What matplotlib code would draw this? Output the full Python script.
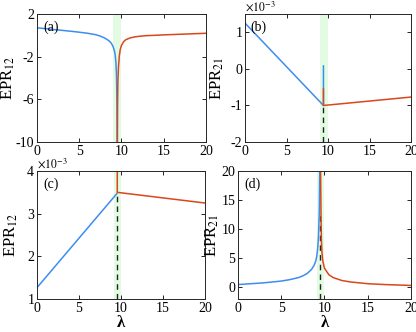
import numpy as np
import matplotlib
matplotlib.use("Agg")
import matplotlib.pyplot as plt
from matplotlib.ticker import MultipleLocator

plt.rcParams['font.family'] = ['Liberation Serif', 'DejaVu Serif']
plt.rcParams['mathtext.fontset'] = 'stix'
plt.rcParams['axes.unicode_minus'] = False

BLUE = '#3d8df0'
RED = '#d9471a'
GREEN = '#e2fbe2'

# ----------------- data -----------------
# (a) EPR_12
a_blue_x = [0, 1, 2, 3, 4, 5, 6, 7, 7.5, 8, 8.5, 8.8, 9.0, 9.15, 9.25, 9.35, 9.42, 9.46, 9.48]
a_blue_y = [0.70, 0.62, 0.54, 0.46, 0.38, 0.29, 0.19, 0.05, -0.08, -0.25, -0.5, -0.75, -1.05, -1.4, -1.8, -2.6, -4.0, -6.5, -10]
a_red_x = [9.52, 9.54, 9.58, 9.65, 9.75, 9.85, 10.0, 10.25, 10.5, 11, 11.5, 12, 13, 14, 15, 17, 20]
a_red_y = [-10, -6.5, -4.2, -2.9, -1.9, -1.35, -0.95, -0.6, -0.42, -0.25, -0.16, -0.1, -0.03, 0.0, 0.04, 0.1, 0.19]

# (b) EPR_21 (x1e-3)
b_blue_x = [0, 9.45, 9.45]
b_blue_y = [1.25, -1.0, 0.08]
b_red_x = [9.45, 9.45, 20]
b_red_y = [-0.55, -1.0, -0.77]

# (c) EPR_12 (x1e-3)
c_blue_x = [0, 9.5]
c_blue_y = [1.27, 3.47]
c_red_x = [9.55, 9.55, 20]
c_red_y = [4.0, 3.5, 3.25]

# (d) EPR_21
d_blue_x = [0, 1, 2, 3, 4, 5, 6, 7, 7.5, 8, 8.5, 8.8, 9.0, 9.1, 9.2, 9.3, 9.4, 9.45]
d_blue_y = [0.5, 0.6, 0.7, 0.8, 0.95, 1.1, 1.35, 1.7, 2.0, 2.4, 3.1, 3.8, 4.6, 5.3, 6.5, 8.5, 13, 20]
d_red_x = [9.55, 9.6, 9.65, 9.7, 9.8, 10, 10.5, 11, 12, 13, 14, 15, 17, 20]
d_red_y = [20, 12, 8, 6.2, 4.6, 3.3, 2.2, 1.7, 1.2, 0.95, 0.8, 0.65, 0.5, 0.35]

fig = plt.figure(figsize=(4.16, 3.32), dpi=100)
ax_a = fig.add_axes([0.089, 0.572, 0.406, 0.386])
ax_b = fig.add_axes([0.589, 0.572, 0.399, 0.386])
ax_c = fig.add_axes([0.089, 0.099, 0.404, 0.386])
ax_d = fig.add_axes([0.572, 0.099, 0.416, 0.386])


def style(ax, ylim, yticks, band, label):
    ax.axvspan(band[0], band[1], color=GREEN, lw=0, zorder=0)
    ax.set_xlim(0, 20)
    ax.set_ylim(*ylim)
    ax.xaxis.set_major_locator(MultipleLocator(5))
    ax.set_yticks(yticks)
    ax.tick_params(direction='in', top=True, right=True, length=3, width=0.6,
                   labelsize=10, pad=2)
    for s in ax.spines.values():
        s.set_linewidth(0.7)
        s.set_color('#262626')
    ax.text(0.035, 0.95, label, transform=ax.transAxes, ha='left', va='top', fontsize=10)


# (a)
style(ax_a, (-10, 2), [2, -2, -6, -10], (9.05, 10.0), '(a)')
ax_a.plot(a_blue_x, a_blue_y, color=BLUE, lw=1.1)
ax_a.plot(a_red_x, a_red_y, color=RED, lw=1.1)
ax_a.set_ylabel('EPR$_{12}$', fontsize=12, labelpad=-1)

# (b)
style(ax_b, (-2, 1.5), [-2, -1, 0, 1], (9.0, 9.95), '(b)')
ax_b.plot([9.45, 9.45], [-2, -1.0], color='#222222', lw=1.0, ls=(0, (4, 3)))
ax_b.plot(b_blue_x, b_blue_y, color=BLUE, lw=1.1)
ax_b.plot(b_red_x, b_red_y, color=RED, lw=1.1)
ax_b.set_ylabel('EPR$_{21}$', fontsize=12, labelpad=3)
ax_b.text(0.0, 1.0, r'$\times10^{-3}$', transform=ax_b.transAxes, ha='left', va='bottom', fontsize=8.5)

# (c)
style(ax_c, (1, 4), [1, 2, 3, 4], (9.15, 10.0), '(c)')
ax_c.plot([9.55, 9.55], [1, 3.5], color='#222222', lw=1.0, ls=(0, (4, 3)))
ax_c.plot(c_blue_x, c_blue_y, color=BLUE, lw=1.1)
ax_c.plot(c_red_x, c_red_y, color=RED, lw=1.1)
ax_c.set_ylabel('EPR$_{12}$', fontsize=12, labelpad=5)
ax_c.set_xlabel('λ', fontsize=12, fontweight='bold', labelpad=0)
ax_c.text(0.0, 1.0, r'$\times10^{-3}$', transform=ax_c.transAxes, ha='left', va='bottom', fontsize=8.5)

# (d)
style(ax_d, (-2, 20), [0, 5, 10, 15, 20], (9.1, 10.0), '(d)')
ax_d.plot([9.5, 9.5], [-2, 13], color='#222222', lw=1.0, ls=(0, (4, 3)))
ax_d.plot(d_blue_x, d_blue_y, color=BLUE, lw=1.1)
ax_d.plot(d_red_x, d_red_y, color=RED, lw=1.1)
ax_d.set_ylabel('EPR$_{21}$', fontsize=12, labelpad=0)
ax_d.set_xlabel('λ', fontsize=12, fontweight='bold', labelpad=0)

fig.savefig('out.png', dpi=100)
